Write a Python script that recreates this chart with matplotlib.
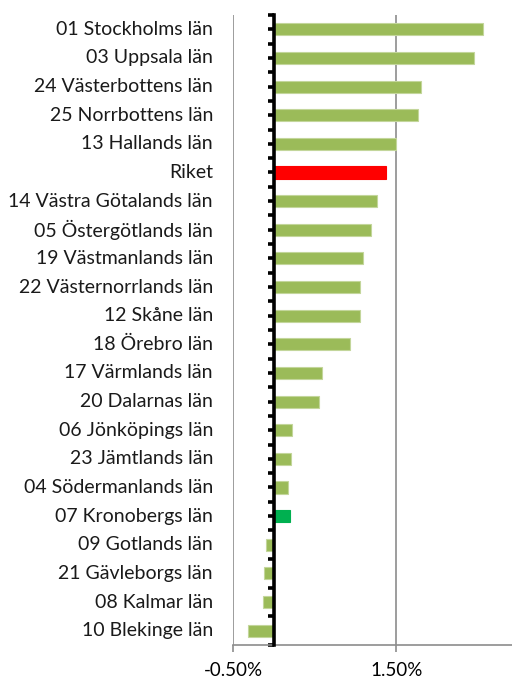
import numpy as np
import matplotlib.pyplot as plt
from matplotlib.ticker import FixedLocator

# regions, top to bottom as shown
regions = ['01 Stockholms län', '03 Uppsala län', '24 Västerbottens län',
           '25 Norrbottens län', '13 Hallands län', 'Riket',
           '14 Västra Götalands län', '05 Östergötlands län',
           '19 Västmanlands län', '22 Västernorrlands län', '12 Skåne län',
           '18 Örebro län', '17 Värmlands län', '20 Dalarnas län',
           '06 Jönköpings län', '23 Jämtlands län', '04 Södermanlands län',
           '07 Kronobergs län', '09 Gotlands län', '21 Gävleborgs län',
           '08 Kalmar län', '10 Blekinge län']
# change in percent
values = [2.57, 2.46, 1.80, 1.77, 1.50, 1.37, 1.26, 1.19, 1.09, 1.06, 1.06,
          0.93, 0.59, 0.55, 0.22, 0.21, 0.18, 0.20, -0.10, -0.12, -0.13, -0.32]
xticks = [-0.5, 1.5]
xticklabels = ['-0.50%', '1.50%']

green = '#9BBB59'
colors = []
for r in regions:
    if r == 'Riket':
        colors.append('#FF0000')
    elif r.startswith('07'):
        colors.append('#00B050')
    else:
        colors.append(green)
edges = ['#C3D69B' if c == green else c for c in colors]

plt.rcParams['font.family'] = ['Lato', 'DejaVu Sans']

fig = plt.figure(figsize=(5.12, 6.79), dpi=100)
ax = fig.add_axes([233 / 512, 1 - 645 / 679, (512 - 233) / 512, 630 / 679])

y = np.arange(len(regions))
ax.barh(y, values, height=0.42, color=colors, edgecolor=edges, linewidth=0.8, zorder=2)

ax.set_ylim(len(regions) - 0.5, -0.5)
ax.set_xlim(-0.5, 2.92)

# zero axis with dense tick marks
ax.spines['left'].set_position(('data', 0))
ax.spines['left'].set_linewidth(2.6)
ax.spines['left'].set_color('black')
ax.spines['left'].set_zorder(3)
ax.yaxis.set_major_locator(FixedLocator(np.arange(len(regions) + 1) - 0.5))
ax.yaxis.set_minor_locator(FixedLocator(y))
ax.tick_params(axis='y', which='both', direction='out', length=4, width=2.6,
               color='black', labelleft=False)
ax.spines['top'].set_visible(False)
ax.spines['right'].set_visible(False)
ax.spines['bottom'].set_color('#8C8C8C')
ax.spines['bottom'].set_linewidth(1.2)

ax.set_xticks(xticks)
ax.set_xticklabels(xticklabels, fontsize=13.5)
ax.tick_params(axis='x', direction='out', length=5, width=1.2, color='#8C8C8C', pad=7)
ax.grid(axis='x', color='#8C8C8C', linewidth=1.2, zorder=0)
ax.set_axisbelow(True)

for yi, name in zip(y, regions):
    ax.text(-0.5 - 20 / 81.5, yi, name, ha='right', va='center', fontsize=14,
            color='#1a1a1a')

fig.savefig('out.png', dpi=100)
